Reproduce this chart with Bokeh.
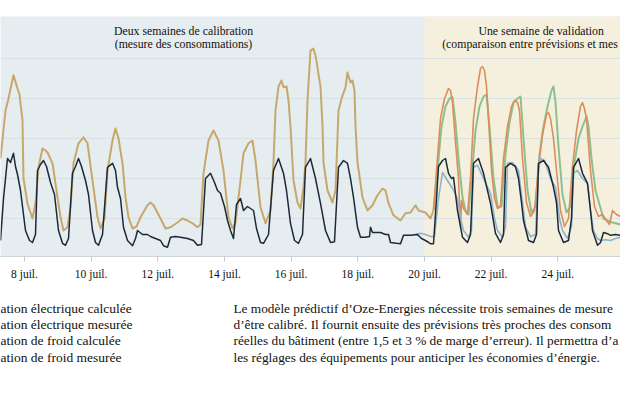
from bokeh.plotting import figure
from bokeh.models import Range1d, FixedTicker, BoxAnnotation
from bokeh.layouts import column
from bokeh.embed import file_html
from bokeh.resources import INLINE
from bokeh.core.properties import value

FONT = "Liberation Serif"

# (day of July 2015, consumption) pairs
# calibration period: measured and calculated curves overlap
froid_calibration = [
    (7.28, 2.5), (7.43, 3.7), (7.52, 4.0), (7.67, 4.58), (7.79, 4.25), (7.85, 4.1), (7.94, 3.45),
    (7.97, 2.0), (8.09, 1.37), (8.24, 1.0), (8.33, 1.38), (8.42, 2.28), (8.54, 2.75), (8.63, 2.7),
    (8.69, 2.65), (8.84, 2.38), (8.99, 1.53), (9.08, 1.03), (9.17, 0.7), (9.29, 0.78), (9.38, 1.28),
    (9.47, 2.38), (9.62, 2.88), (9.77, 3.03), (9.89, 2.88), (10.04, 1.95), (10.19, 1.03), (10.28, 0.75),
    (10.40, 1.0), (10.49, 2.2), (10.64, 2.95), (10.73, 3.25), (10.82, 3.0), (10.94, 2.38), (11.03, 1.53),
    (11.12, 1.03), (11.24, 0.75), (11.36, 0.8), (11.48, 1.03), (11.69, 1.33), (11.78, 1.4), (11.87, 1.33),
    (12.08, 1.0), (12.23, 0.75), (12.38, 0.78), (12.59, 0.9), (12.74, 1.0), (12.89, 0.95), (13.04, 0.88),
    (13.19, 0.78), (13.28, 0.85), (13.37, 2.13), (13.52, 2.95), (13.67, 3.2), (13.82, 2.95), (13.97, 2.2),
    (14.12, 1.03), (14.24, 0.75), (14.33, 0.9), (14.48, 1.95), (14.57, 2.63), (14.72, 2.88), (14.84, 2.95),
    (14.93, 2.45), (15.08, 1.28), (15.23, 0.88), (15.38, 1.2), (15.47, 2.4), (15.53, 3.7), (15.62, 4.3),
    (15.71, 4.45), (15.77, 4.28), (15.86, 4.3), (15.92, 3.95), (15.98, 3.3), (16.07, 1.95), (16.19, 1.4),
    (16.28, 1.25), (16.37, 1.78), (16.43, 2.4), (16.49, 3.95), (16.58, 5.2), (16.67, 5.25), (16.73, 5.07),
    (16.79, 4.78), (16.82, 4.6), (16.88, 4.3), (16.94, 3.3), (16.97, 2.4), (17.09, 1.7), (17.24, 1.4),
    (17.33, 1.7), (17.42, 3.7), (17.54, 4.08), (17.63, 4.28), (17.69, 4.65), (17.78, 4.4), (17.84, 4.45),
    (17.90, 4.2), (17.93, 3.3), (17.99, 2.4), (18.14, 1.53), (18.29, 1.2), (18.44, 1.33), (18.59, 1.58),
    (18.74, 1.75), (18.83, 1.7), (18.92, 1.38), (19.07, 1.08), (19.28, 0.95), (19.43, 1.13), (19.58, 1.15),
    (19.73, 1.33), (19.82, 1.2), (20.03, 1.15), (20.18, 1.0), (20.27, 1.2),
]

froid_mesuree_validation = [
    (20.27, 1.2), (20.36, 2.2), (20.48, 3.5), (20.60, 4.0), (20.72, 4.25), (20.78, 4.2), (20.84, 3.9),
    (20.93, 2.9), (21.02, 2.0), (21.08, 0.8), (21.11, 1.45), (21.17, 1.25), (21.29, 1.1), (21.38, 2.0),
    (21.47, 3.5), (21.59, 4.3), (21.68, 4.75), (21.74, 4.8), (21.80, 4.7), (21.86, 4.3), (21.92, 3.5),
    (22.01, 2.2), (22.10, 1.5), (22.19, 1.25), (22.28, 1.3), (22.37, 2.5), (22.49, 3.3), (22.61, 3.8),
    (22.70, 3.95), (22.79, 3.9), (22.85, 3.7), (22.94, 2.5), (23.06, 1.4), (23.18, 1.05), (23.30, 1.2),
    (23.42, 2.3), (23.54, 3.1), (23.66, 3.6), (23.72, 3.65), (23.78, 3.5), (23.87, 3.0), (23.96, 2.2),
    (24.08, 1.2), (24.20, 0.8), (24.32, 1.0), (24.44, 2.3), (24.56, 3.2), (24.68, 3.8), (24.74, 3.9),
    (24.80, 3.75), (24.86, 3.5), (24.98, 2.2), (25.10, 1.3), (25.22, 1.05), (25.34, 1.1), (25.46, 0.95),
    (25.55, 0.85), (25.64, 1.2), (25.76, 1.1), (25.88, 1.05),
]

froid_calculee_validation = [
    (20.27, 1.2), (20.39, 2.2), (20.51, 3.3), (20.63, 3.8), (20.75, 4.0), (20.84, 4.03), (20.93, 3.4),
    (21.02, 2.5), (21.14, 1.53), (21.23, 1.2), (21.32, 1.1), (21.41, 2.0), (21.53, 3.2), (21.65, 3.8),
    (21.77, 4.05), (21.86, 4.1), (21.95, 3.3), (22.07, 2.0), (22.19, 1.3), (22.31, 1.3), (22.43, 2.6),
    (22.55, 3.4), (22.67, 3.9), (22.79, 4.0), (22.88, 4.05), (22.97, 3.0), (23.09, 1.7), (23.21, 1.15),
    (23.33, 1.3), (23.45, 2.6), (23.57, 3.3), (23.69, 3.8), (23.81, 4.2), (23.87, 4.3), (23.93, 3.9),
    (24.02, 2.8), (24.14, 1.6), (24.26, 1.15), (24.38, 1.3), (24.50, 2.4), (24.62, 3.0), (24.74, 3.3),
    (24.86, 3.55), (24.92, 3.3), (25.01, 2.5), (25.13, 1.7), (25.25, 1.35), (25.37, 1.0), (25.49, 0.95),
    (25.64, 0.9), (25.88, 0.85),
]

elec_mesuree = [
    (7.28, 0.45), (7.37, 1.5), (7.49, 2.5), (7.58, 2.4), (7.67, 2.63), (7.73, 2.3), (7.79, 2.1),
    (7.88, 1.7), (8.03, 0.7), (8.15, 0.45), (8.24, 0.4), (8.33, 0.6), (8.39, 2.2), (8.48, 2.35),
    (8.57, 2.45), (8.66, 2.3), (8.78, 1.9), (8.90, 1.6), (9.02, 0.7), (9.14, 0.38), (9.23, 0.33),
    (9.32, 0.5), (9.44, 2.13), (9.53, 2.3), (9.62, 2.5), (9.71, 2.3), (9.83, 1.95), (9.92, 1.6),
    (10.04, 0.7), (10.13, 0.4), (10.22, 0.33), (10.34, 0.6), (10.49, 2.28), (10.64, 2.38), (10.73, 2.2),
    (10.79, 1.78), (10.88, 1.5), (10.97, 0.78), (11.09, 0.45), (11.24, 0.32), (11.33, 0.5), (11.39, 0.7),
    (11.54, 0.6), (11.69, 0.6), (11.78, 0.55), (11.93, 0.5), (12.08, 0.45), (12.17, 0.32), (12.29, 0.28),
    (12.38, 0.53), (12.53, 0.55), (12.68, 0.53), (12.89, 0.5), (13.07, 0.45), (13.19, 0.33), (13.31, 0.35),
    (13.43, 2.0), (13.58, 2.13), (13.70, 1.9), (13.79, 1.7), (13.88, 1.63), (14.00, 1.3), (14.09, 0.95),
    (14.18, 0.7), (14.27, 0.5), (14.36, 1.35), (14.48, 1.5), (14.57, 1.2), (14.69, 1.3), (14.78, 1.25),
    (14.87, 1.2), (14.96, 0.75), (15.08, 0.4), (15.17, 0.38), (15.32, 0.6), (15.47, 2.2), (15.62, 2.5),
    (15.77, 2.13), (15.86, 1.7), (15.98, 0.88), (16.10, 0.45), (16.22, 0.38), (16.34, 0.6), (16.43, 2.28),
    (16.58, 2.5), (16.73, 2.0), (16.88, 1.38), (17.03, 0.7), (17.18, 0.4), (17.30, 0.42), (17.42, 2.28),
    (17.57, 2.45), (17.69, 2.38), (17.78, 2.0), (17.87, 1.53), (17.99, 0.78), (18.08, 0.53), (18.23, 0.53),
    (18.35, 0.55), (18.38, 0.78), (18.44, 0.65), (18.68, 0.65), (18.83, 0.6), (18.92, 0.6), (18.98, 0.4),
    (19.16, 0.38), (19.28, 0.37), (19.37, 0.58), (19.58, 0.58), (19.79, 0.6), (19.91, 0.5), (20.03, 0.45),
    (20.18, 0.37), (20.27, 0.37), (20.36, 1.5), (20.42, 2.3), (20.54, 2.45), (20.63, 2.5), (20.72, 2.13),
    (20.81, 2.0), (20.87, 2.03), (20.99, 1.2), (21.14, 0.53), (21.29, 0.4), (21.38, 0.6), (21.47, 2.38),
    (21.62, 2.5), (21.77, 2.13), (21.89, 1.7), (21.98, 1.38), (22.13, 0.63), (22.28, 0.4), (22.37, 0.6),
    (22.43, 2.28), (22.58, 2.38), (22.73, 2.3), (22.82, 2.0), (22.91, 1.4), (22.97, 0.95), (23.12, 0.45),
    (23.27, 0.4), (23.36, 0.6), (23.42, 2.38), (23.57, 2.45), (23.72, 2.28), (23.87, 1.78), (23.96, 1.4),
    (24.02, 0.7), (24.17, 0.4), (24.32, 0.45), (24.41, 1.0), (24.47, 2.28), (24.62, 2.5), (24.74, 2.13),
    (24.89, 1.88), (24.98, 1.2), (25.04, 0.7), (25.19, 0.33), (25.28, 0.4), (25.37, 0.65), (25.49, 0.62),
    (25.58, 0.58), (25.73, 0.6), (25.88, 0.58),
]

elec_calculee_validation = [
    (19.73, 0.6), (19.88, 0.63), (20.03, 0.6), (20.18, 0.55), (20.30, 0.55), (20.42, 1.5), (20.54, 2.15),
    (20.69, 1.95), (20.84, 1.75), (20.99, 1.5), (21.08, 1.0), (21.17, 0.7), (21.32, 0.53), (21.41, 0.7),
    (21.47, 2.28), (21.59, 2.33), (21.77, 2.0), (21.98, 1.63), (22.10, 1.0), (22.19, 0.7), (22.34, 0.53),
    (22.43, 0.8), (22.49, 2.38), (22.64, 2.4), (22.82, 2.2), (22.94, 1.4), (23.03, 0.78), (23.18, 0.55),
    (23.33, 0.6), (23.42, 2.2), (23.48, 2.5), (23.60, 2.45), (23.78, 2.0), (23.93, 1.78), (24.05, 1.0),
    (24.14, 0.7), (24.29, 0.5), (24.41, 0.8), (24.47, 2.13), (24.59, 2.2), (24.74, 2.0), (24.89, 1.88),
    (24.98, 1.2), (25.07, 0.7), (25.19, 0.5), (25.28, 0.45), (25.43, 0.47), (25.58, 0.45), (25.73, 0.5),
    (25.88, 0.53),
]

validation_start = 20.0
tick_days = [8, 10, 12, 14, 16, 18, 20, 22, 24]
tick_labels = {d: f"{d} juil." for d in tick_days}
grid_levels = [1, 2, 3, 4, 5]

calibration_title = ["Deux semaines de calibration", "(mesure des consommations)"]
validation_title = ["Une semaine de validation", "(comparaison entre prévisions et mes"]

legend_labels = [
    "ation électrique calculée",
    "ation électrique mesurée",
    "ation de froid calculée",
    "ation de froid mesurée",
]

paragraph_lines = [
    "Le modèle prédictif d’Oze-Energies nécessite trois semaines de mesure",
    "d’être calibré. Il fournit ensuite des prévisions très proches des consom",
    "réelles du bâtiment (entre 1,5 et 3 % de marge d’erreur). Il permettra d’a",
    "les réglages des équipements pour anticiper les économies d’énergie.",
]


def xs(series):
    return [t for t, _ in series]


def ys(series):
    return [v for _, v in series]


p = figure(
    width=620, height=284,
    x_range=Range1d(7.28, 25.88), y_range=Range1d(0.05, 6.05),
    output_backend="svg", toolbar_location=None,
    y_axis_location=None,
    min_border_left=0, min_border_right=0, min_border_top=16, min_border_bottom=28,
    outline_line_color=None,
    background_fill_color="#e6edf0", border_fill_color="white",
)

p.add_layout(BoxAnnotation(left=validation_start, fill_color="#f5f0de", fill_alpha=1.0,
                           line_color=None, level="image"))

p.xgrid.visible = False
p.ygrid.ticker = FixedTicker(ticks=grid_levels)
p.ygrid.grid_line_color = "#d9e1e4"
p.ygrid.grid_line_width = 1

ax = p.xaxis[0]
ax.ticker = FixedTicker(ticks=tick_days)
ax.major_label_overrides = tick_labels
ax.minor_tick_line_color = None
ax.major_tick_in = 0
ax.major_tick_out = 5
ax.major_tick_line_color = "#c3cbcf"
ax.axis_line_color = "#cdd5d9"
ax.major_label_standoff = 6
ax.major_label_text_font = FONT
ax.major_label_text_font_size = "11.5px"
ax.major_label_text_color = "#111111"

# lines
p.line(xs(froid_calibration), ys(froid_calibration), color="#c7a86c", line_width=2, line_join="round")
p.line(xs(froid_calculee_validation), ys(froid_calculee_validation), color="#8fbf8c", line_width=2, line_join="round")
p.line(xs(froid_mesuree_validation), ys(froid_mesuree_validation), color="#dc8d5c", line_width=1.6, line_join="round")
p.line(xs(elec_calculee_validation), ys(elec_calculee_validation), color="#8db4cb", line_width=1.6, line_join="round")
p.line(xs(elec_mesuree), ys(elec_mesuree), color="#1d2939", line_width=1.5, line_join="round")

# period titles
p.text(x=[12.77, 12.77], y=[5.69, 5.36], text=calibration_title,
       text_align="center", text_baseline="alphabetic",
       text_font=value(FONT), text_font_size="11.8px", text_color="#111111")
p.text(x=[23.50], y=[5.69], text=[validation_title[0]],
       text_align="center", text_baseline="alphabetic",
       text_font=value(FONT), text_font_size="11.8px", text_color="#111111")
p.text(x=[20.53], y=[5.36], text=[validation_title[1]],
       text_align="left", text_baseline="alphabetic",
       text_font=value(FONT), text_font_size="11.8px", text_color="#111111")

# text block below
t = figure(
    width=620, height=109,
    x_range=Range1d(0, 620), y_range=Range1d(109, 0),
    output_backend="svg", toolbar_location=None,
    x_axis_location=None, y_axis_location=None,
    min_border=0, outline_line_color=None,
    background_fill_color="white", border_fill_color="white",
)
t.grid.visible = False
rows = [23.8, 40.1, 56.4, 72.7]
t.text(x=[0] * 4, y=rows, text=legend_labels, text_align="left", text_baseline="alphabetic",
       text_font=value(FONT), text_font_size="13.5px", text_color="#111111")
t.text(x=[233] * 4, y=rows, text=paragraph_lines, text_align="left", text_baseline="alphabetic",
       text_font=value(FONT), text_font_size="13.3px", text_color="#111111")

layout = column(p, t)
open("out.html", "w").write(file_html(layout, INLINE))
